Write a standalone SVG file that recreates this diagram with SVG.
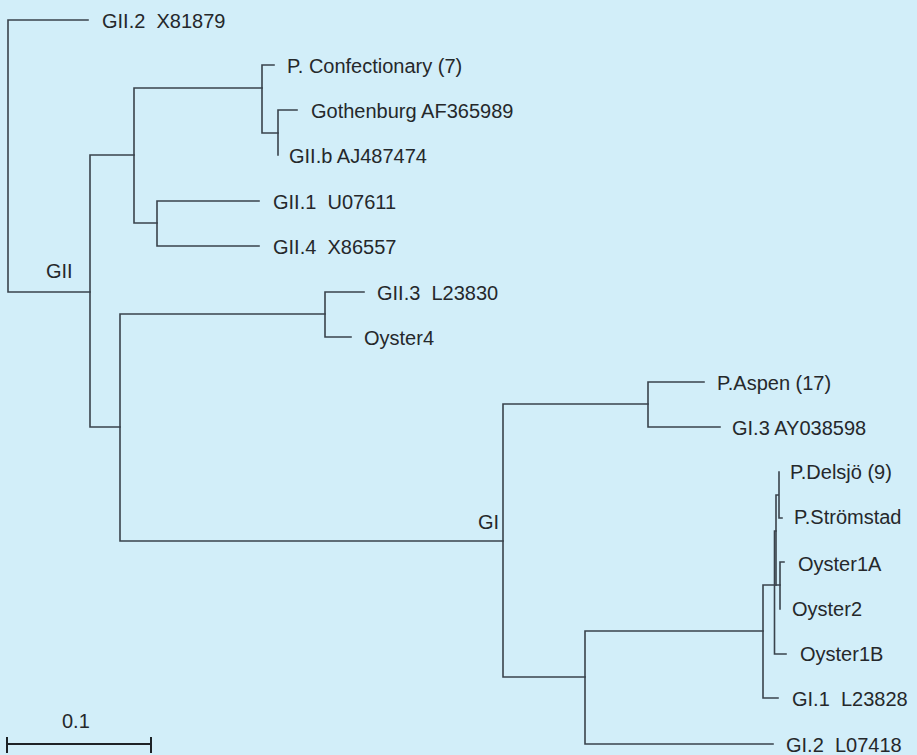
<svg xmlns="http://www.w3.org/2000/svg" width="917" height="755" viewBox="0 0 917 755">
<style>
.bg{fill:#d2eef9}
.br{fill:none;stroke:#3a434c;stroke-width:1.6;stroke-linecap:square}
.sb{fill:none;stroke:#1e2226;stroke-width:2}
text{font-family:"Liberation Sans",Arial,sans-serif;font-size:20px;fill:#25282b;white-space:pre}
</style>
<rect class="bg" x="0" y="0" width="917" height="755"/>
<g id="connectors" class="br">
<path d="M8,20 V292 M8,20 H88 M8,292 H90"/>
<path d="M90,155 V427 M90,155 H134 M90,427 H120"/>
<path d="M134,88 V223 M134,88 H262 M134,223 H157"/>
<path d="M262,65 V133 M262,65 H274 M262,133 H278"/>
<path d="M278,110 V155 M278,110 H297"/>
<path d="M157,201 V246 M157,201 H259 M157,246 H259"/>
<path d="M120,314 V541 M120,314 H325 M120,541 H503"/>
<path d="M325,292 V337 M325,292 H364 M325,337 H351"/>
<path d="M503,404 V677 M503,404 H648 M503,677 H585"/>
<path d="M648,382 V427 M648,382 H704 M648,427 H720"/>
<path d="M585,631 V744 M585,631 H763 M585,744 H773"/>
<path d="M763,585 V698 M763,698 H778 M763,585 H780"/>
<path d="M779,472 V518 H782 M776,495 H779 M776,495 V585"/>
<path d="M774.5,531 V654 H786 M774.5,531 H776"/>
<path d="M780,562 V609 M780,562 H784"/>
</g>
<g id="leaf-gii2"><text x="102" y="28">GII.2  X81879</text></g>
<g id="leaf-pconf"><text x="287" y="73">P. Confectionary (7)</text></g>
<g id="leaf-gothenburg"><text x="311" y="118">Gothenburg AF365989</text></g>
<g id="leaf-giib"><text x="289" y="163">GII.b AJ487474</text></g>
<g id="leaf-gii1"><text x="273" y="209">GII.1  U07611</text></g>
<g id="leaf-gii4"><text x="273" y="254">GII.4  X86557</text></g>
<g id="label-gii"><text x="46" y="278">GII</text></g>
<g id="leaf-gii3"><text x="377" y="300">GII.3  L23830</text></g>
<g id="leaf-oyster4"><text x="364" y="345">Oyster4</text></g>
<g id="leaf-paspen"><text x="717" y="390">P.Aspen (17)</text></g>
<g id="leaf-gi3"><text x="732" y="435">GI.3 AY038598</text></g>
<g id="label-gi"><text x="478" y="529">GI</text></g>
<g id="leaf-pdelsjo"><text x="790" y="479">P.Delsjö (9)</text></g>
<g id="leaf-pstromstad"><text x="794" y="524">P.Strömstad</text></g>
<g id="leaf-oyster1a"><text x="798" y="571">Oyster1A</text></g>
<g id="leaf-oyster2"><text x="792" y="616">Oyster2</text></g>
<g id="leaf-oyster1b"><text x="800" y="661">Oyster1B</text></g>
<g id="leaf-gi1"><text x="792" y="706">GI.1  L23828</text></g>
<g id="leaf-gi2"><text x="786" y="752">GI.2  L07418</text></g>
<g id="scalebar">
<path class="sb" d="M7,744 H151 M7,737 V753 M151,737 V753"/>
<text x="62" y="728">0.1</text>
</g>
</svg>
